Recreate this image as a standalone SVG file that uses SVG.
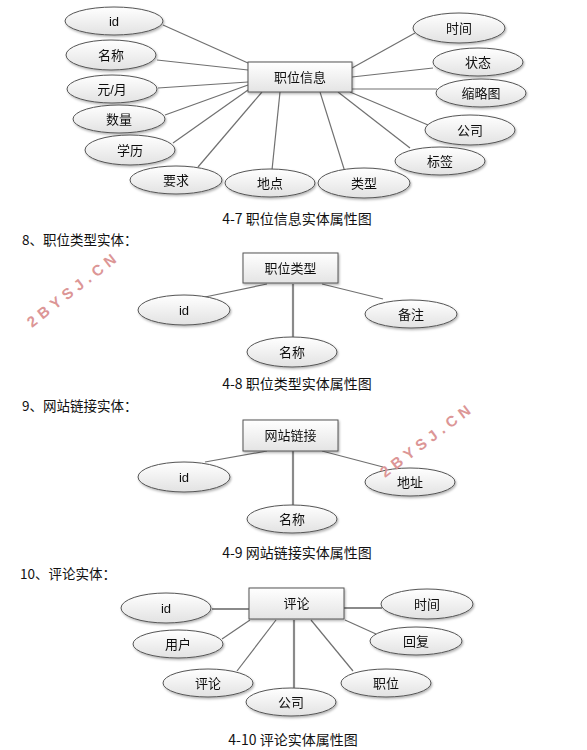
<svg xmlns="http://www.w3.org/2000/svg" width="587" height="750" viewBox="0 0 587 750">
<style>
.bg{fill:#ffffff}
.ell{fill:url(#gE);stroke:#555;stroke-width:1}
.ent{fill:url(#gR);stroke:#555;stroke-width:1}
.lbl{font-family:"Liberation Sans","Noto Sans CJK SC",sans-serif;font-size:13px;fill:#111;text-anchor:middle;dominant-baseline:central}
.cap{font-family:"Noto Sans CJK SC",sans-serif;font-size:14px;fill:#111;text-anchor:middle;dominant-baseline:central}
.head{font-family:"Noto Sans CJK SC",sans-serif;font-size:13.5px;fill:#111;dominant-baseline:central}
.ln{stroke:#707070;stroke-width:1.2;fill:none}
.lnb{stroke:#8a8a8a;stroke-width:2.2;fill:none}
.wm{font-family:"Liberation Sans",sans-serif;font-size:15px;font-weight:bold;fill:#dc9696;letter-spacing:5px}
</style>
<defs>
<linearGradient id="gE" x1="0" y1="0" x2="0" y2="1">
<stop offset="0" stop-color="#ffffff"/>
<stop offset="1" stop-color="#e2e2e2"/>
</linearGradient>
<linearGradient id="gR" x1="0" y1="0" x2="0" y2="1">
<stop offset="0" stop-color="#ffffff"/>
<stop offset="1" stop-color="#e4e4e4"/>
</linearGradient>
<filter id="sh" x="-20%" y="-20%" width="140%" height="150%">
<feDropShadow dx="1" dy="1.5" stdDeviation="1" flood-color="#000" flood-opacity="0.3"/>
</filter>
</defs>
<rect class="bg" x="0" y="0" width="587" height="750"/>

<!-- Diagram 4-7 -->
<g id="connectors-47">
<line class="ln" x1="163" y1="25" x2="248" y2="63"/>
<line class="ln" x1="157" y1="60" x2="248" y2="70"/>
<line class="ln" x1="158" y1="88" x2="248" y2="82"/>
<line class="ln" x1="165" y1="115" x2="248" y2="85"/>
<line class="ln" x1="173" y1="143" x2="248" y2="90"/>
<line class="ln" x1="198" y1="167" x2="262" y2="92"/>
<line class="ln" x1="272" y1="170" x2="280" y2="92"/>
<line class="ln" x1="345" y1="172" x2="320" y2="92"/>
<line class="ln" x1="352" y1="68" x2="415" y2="33"/>
<line class="ln" x1="352" y1="77" x2="433" y2="68"/>
<line class="ln" x1="352" y1="89" x2="437" y2="89"/>
<line class="ln" x1="350" y1="92" x2="428" y2="125"/>
<line class="ln" x1="338" y1="92" x2="410" y2="148"/>
</g>
<g id="e47" filter="url(#sh)"><rect class="ent" x="248" y="62" width="104" height="30"/><text class="lbl" x="300" y="77">职位信息</text></g>
<g id="a47-id" filter="url(#sh)"><ellipse class="ell" cx="114" cy="21" rx="49" ry="14"/><text class="lbl" x="114" y="21">id</text></g>
<g id="a47-name" filter="url(#sh)"><ellipse class="ell" cx="111" cy="55" rx="45" ry="15"/><text class="lbl" x="111" y="55">名称</text></g>
<g id="a47-salary" filter="url(#sh)"><ellipse class="ell" cx="112" cy="89" rx="45" ry="14"/><text class="lbl" x="112" y="89">元/月</text></g>
<g id="a47-qty" filter="url(#sh)"><ellipse class="ell" cx="119" cy="119" rx="46" ry="14"/><text class="lbl" x="119" y="119">数量</text></g>
<g id="a47-edu" filter="url(#sh)"><ellipse class="ell" cx="130" cy="150" rx="45" ry="15"/><text class="lbl" x="130" y="150">学历</text></g>
<g id="a47-req" filter="url(#sh)"><ellipse class="ell" cx="176" cy="180" rx="46" ry="14"/><text class="lbl" x="176" y="180">要求</text></g>
<g id="a47-loc" filter="url(#sh)"><ellipse class="ell" cx="270" cy="183" rx="45" ry="14"/><text class="lbl" x="270" y="183">地点</text></g>
<g id="a47-type" filter="url(#sh)"><ellipse class="ell" cx="364" cy="183" rx="46" ry="15"/><text class="lbl" x="364" y="183">类型</text></g>
<g id="a47-time" filter="url(#sh)"><ellipse class="ell" cx="459" cy="28" rx="46" ry="15"/><text class="lbl" x="459" y="28">时间</text></g>
<g id="a47-state" filter="url(#sh)"><ellipse class="ell" cx="478" cy="62" rx="45" ry="14"/><text class="lbl" x="478" y="62">状态</text></g>
<g id="a47-thumb" filter="url(#sh)"><ellipse class="ell" cx="481" cy="93" rx="45" ry="14"/><text class="lbl" x="481" y="93">缩略图</text></g>
<g id="a47-company" filter="url(#sh)"><ellipse class="ell" cx="470" cy="130" rx="45" ry="15"/><text class="lbl" x="470" y="130">公司</text></g>
<g id="a47-tag" filter="url(#sh)"><ellipse class="ell" cx="440" cy="161" rx="45" ry="14"/><text class="lbl" x="440" y="161">标签</text></g>
<text class="cap" x="297" y="218">4-7 职位信息实体属性图</text>

<!-- Diagram 4-8 -->
<text class="head" x="22" y="239">8、职位类型实体：</text>
<g id="connectors-48">
<line class="ln" x1="205" y1="297" x2="267" y2="284"/>
<line class="lnb" x1="293" y1="284" x2="293" y2="337"/>
<line class="ln" x1="322" y1="284" x2="383" y2="299"/>
</g>
<g id="e48" filter="url(#sh)"><rect class="ent" x="243" y="253" width="95" height="30"/><text class="lbl" x="290.5" y="268">职位类型</text></g>
<g id="a48-id" filter="url(#sh)"><ellipse class="ell" cx="184" cy="310" rx="46" ry="15"/><text class="lbl" x="184" y="310">id</text></g>
<g id="a48-note" filter="url(#sh)"><ellipse class="ell" cx="411" cy="314" rx="46" ry="14"/><text class="lbl" x="411" y="314">备注</text></g>
<g id="a48-name" filter="url(#sh)"><ellipse class="ell" cx="292" cy="352" rx="45" ry="15"/><text class="lbl" x="292" y="352">名称</text></g>
<text class="cap" x="297" y="383">4-8 职位类型实体属性图</text>

<!-- Diagram 4-9 -->
<text class="head" x="22" y="405">9、网站链接实体：</text>
<g id="connectors-49">
<line class="ln" x1="205" y1="462" x2="267" y2="451"/>
<line class="lnb" x1="293" y1="451" x2="293" y2="505"/>
<line class="ln" x1="322" y1="451" x2="383" y2="467"/>
</g>
<g id="e49" filter="url(#sh)"><rect class="ent" x="243" y="420" width="95" height="31"/><text class="lbl" x="290.5" y="435.5">网站链接</text></g>
<g id="a49-id" filter="url(#sh)"><ellipse class="ell" cx="184" cy="477" rx="46" ry="15"/><text class="lbl" x="184" y="477">id</text></g>
<g id="a49-addr" filter="url(#sh)"><ellipse class="ell" cx="410" cy="482" rx="45" ry="14"/><text class="lbl" x="410" y="482">地址</text></g>
<g id="a49-name" filter="url(#sh)"><ellipse class="ell" cx="292" cy="519" rx="45" ry="14"/><text class="lbl" x="292" y="519">名称</text></g>
<text class="cap" x="297" y="552">4-9 网站链接实体属性图</text>

<!-- Diagram 4-10 -->
<text class="head" x="20" y="573">10、评论实体：</text>
<g id="connectors-410">
<line class="lnb" x1="212" y1="609" x2="249" y2="609"/>
<line class="lnb" x1="344" y1="608" x2="382" y2="608"/>
<line class="ln" x1="222" y1="639" x2="250" y2="620"/>
<line class="ln" x1="237" y1="671" x2="276" y2="620"/>
<line class="lnb" x1="294" y1="620" x2="294" y2="688"/>
<line class="ln" x1="353" y1="671" x2="311" y2="620"/>
<line class="ln" x1="376" y1="634" x2="345" y2="620"/>
</g>
<g id="e410" filter="url(#sh)"><rect class="ent" x="249" y="588" width="95" height="31"/><text class="lbl" x="296.5" y="603.5">评论</text></g>
<g id="a410-id" filter="url(#sh)"><ellipse class="ell" cx="166" cy="608" rx="45" ry="15"/><text class="lbl" x="166" y="608">id</text></g>
<g id="a410-user" filter="url(#sh)"><ellipse class="ell" cx="178" cy="644" rx="45" ry="14"/><text class="lbl" x="178" y="644">用户</text></g>
<g id="a410-comment" filter="url(#sh)"><ellipse class="ell" cx="208" cy="683" rx="45" ry="14"/><text class="lbl" x="208" y="683">评论</text></g>
<g id="a410-company" filter="url(#sh)"><ellipse class="ell" cx="291" cy="702" rx="45" ry="14"/><text class="lbl" x="291" y="702">公司</text></g>
<g id="a410-job" filter="url(#sh)"><ellipse class="ell" cx="386" cy="683" rx="45" ry="14"/><text class="lbl" x="386" y="683">职位</text></g>
<g id="a410-reply" filter="url(#sh)"><ellipse class="ell" cx="416" cy="641" rx="46" ry="14"/><text class="lbl" x="416" y="641">回复</text></g>
<g id="a410-time" filter="url(#sh)"><ellipse class="ell" cx="427" cy="604" rx="46" ry="15"/><text class="lbl" x="427" y="604">时间</text></g>
<text class="cap" x="293" y="739">4-10 评论实体属性图</text>

<!-- Watermarks -->
<text class="wm" transform="translate(32,328) rotate(-38)">2BYSJ.CN</text>
<text class="wm" transform="translate(385,478) rotate(-37)">2BYSJ.CN</text>
</svg>
